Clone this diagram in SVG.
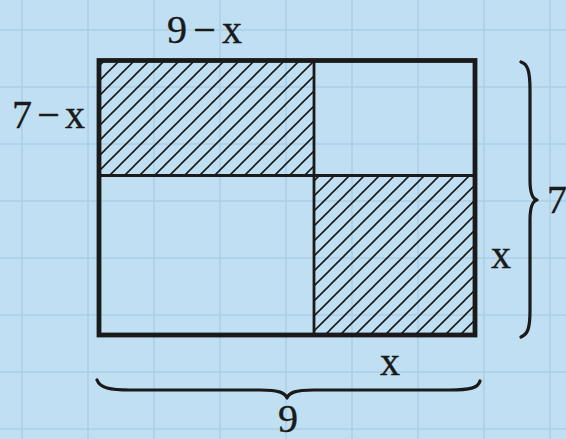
<svg xmlns="http://www.w3.org/2000/svg" width="566" height="439" viewBox="0 0 566 439">
<style>
.grid{stroke:#acd0e8;stroke-width:1.5;fill:none}
.edge{stroke:#1a1a1a;fill:none}
.lbl{font-family:"Liberation Serif","Times New Roman",serif;font-size:40px;fill:#1a1a1a;stroke:#1a1a1a;stroke-width:0.4}
.brace{stroke:#1a1a1a;stroke-width:3.2;fill:none;stroke-linecap:round;stroke-linejoin:round}
</style>
<defs>
<pattern id="hatch" patternUnits="userSpaceOnUse" width="15" height="15">
<path d="M-1 16 L16 -1 M-4 4 L4 -4 M11 19 L19 11" stroke="#1a1a1a" stroke-width="1.6"/>
</pattern>
</defs>
<rect width="566" height="439" fill="#c0dff2"/>
<g id="grid" class="grid">
<path d="M22 0V439M88 0V439M154 0V439M220 0V439M286 0V439M352 0V439M418 0V439M484 0V439M550 0V439"/>
<path d="M0 30H566M0 87H566M0 144H566M0 201H566M0 258H566M0 315H566M0 372H566M0 429H566"/>
</g>
<g id="region-top-left"><rect x="99" y="60.5" width="215" height="115" fill="url(#hatch)"/></g>
<g id="region-bottom-right"><rect x="314" y="175.5" width="161" height="160" fill="url(#hatch)"/></g>
<g id="connectors">
<line class="edge" x1="314" y1="60.5" x2="314" y2="335" stroke-width="2.8"/>
<line class="edge" x1="99" y1="175.5" x2="475" y2="175.5" stroke-width="2.8"/>
<rect class="edge" x="99" y="60.5" width="376" height="274.5" stroke-width="4.8"/>
<path id="brace-right" class="brace" d="M521 62 C528 64 530 72 530 90 L530 180 C530 195 533 199 537 200 C533 201 530 205 530 220 L530 310 C530 328 528 334 521 337"/>
<path id="brace-bottom" class="brace" d="M97 380 C100 388 110 390 130 390 L260 390 C280 390 285 393 287 398 C289 393 294 390 314 390 L450 390 C470 390 478 388 480 381"/>
</g>
<g id="labels">
<text class="lbl" x="167" y="43" textLength="75" lengthAdjust="spacing">9−x</text>
<text class="lbl" x="12" y="128" textLength="73" lengthAdjust="spacing">7−x</text>
<text class="lbl" x="547" y="213">7</text>
<text class="lbl" x="491" y="268">x</text>
<text class="lbl" x="380" y="375">x</text>
<text class="lbl" x="278" y="432">9</text>
</g>
</svg>
